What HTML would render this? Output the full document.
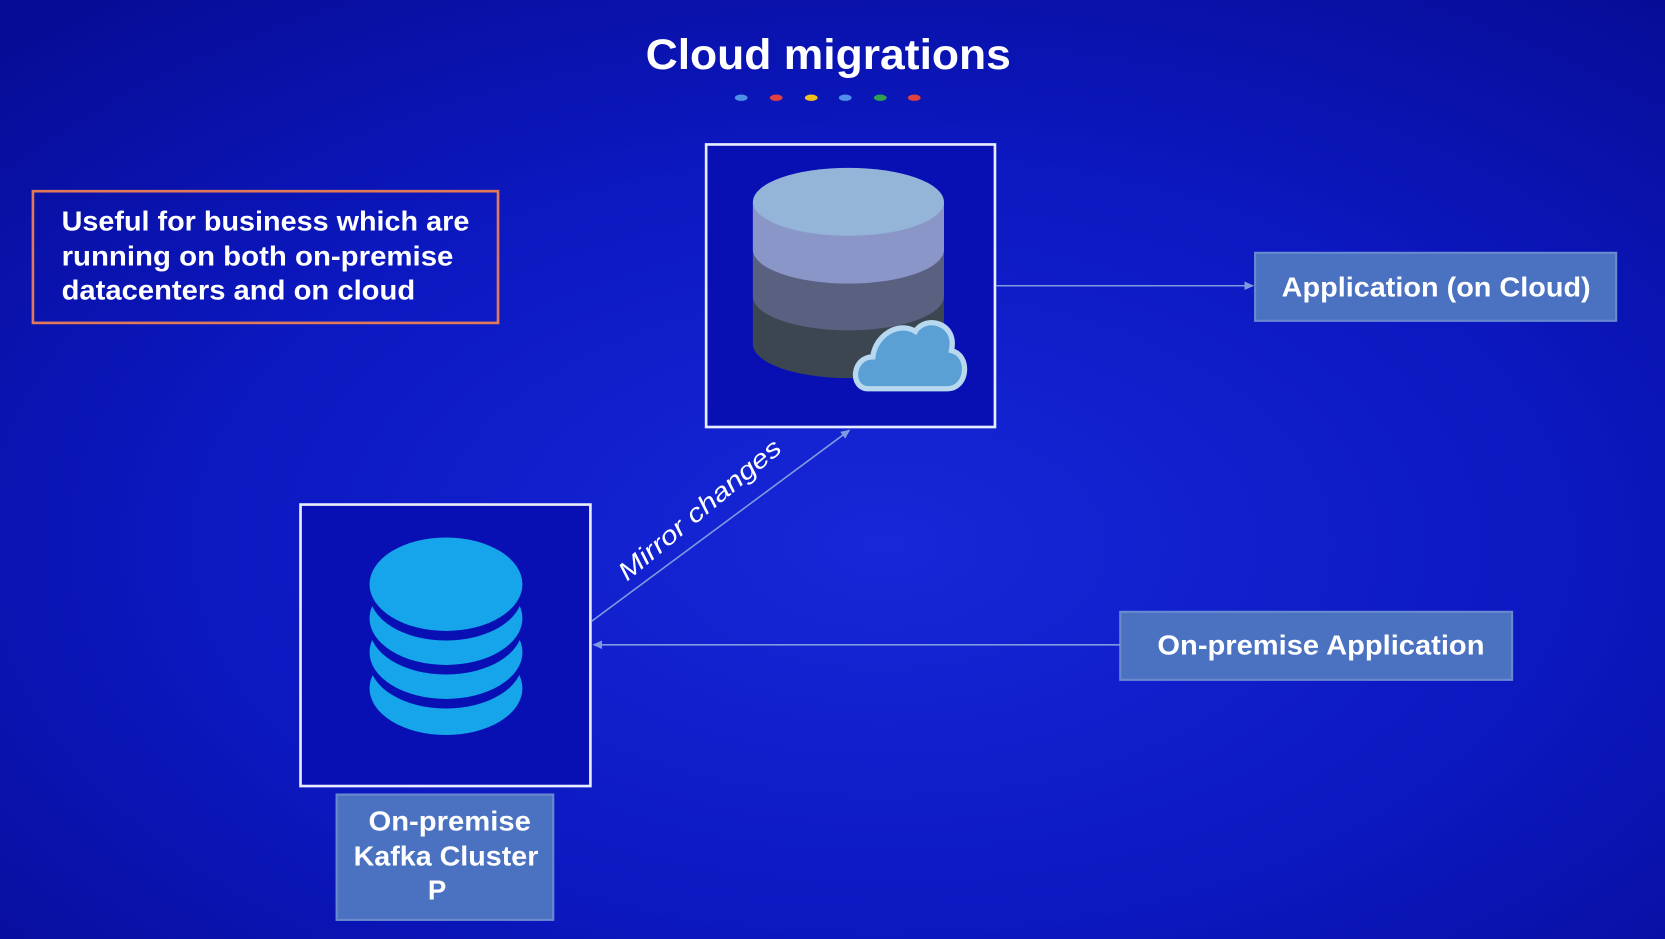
<!DOCTYPE html>
<html><head><meta charset="utf-8"><style>
html,body{margin:0;padding:0;width:1665px;height:939px;overflow:hidden;background:#0a10b0}
svg{display:block}
text{font-family:"Liberation Sans",sans-serif;fill:#fff}
</style></head><body>
<svg width="1665" height="939" viewBox="0 0 1568 884" preserveAspectRatio="none" xmlns="http://www.w3.org/2000/svg">
<defs>
<radialGradient id="bg" cx="0.53" cy="0.58" r="0.75">
<stop offset="0" stop-color="#1628d8"/>
<stop offset="0.55" stop-color="#0c18c0"/>
<stop offset="1" stop-color="#070c96"/>
</radialGradient>
<marker id="ah" markerWidth="10" markerHeight="10" refX="8" refY="5" orient="auto" markerUnits="userSpaceOnUse">
<path d="M0,1 L9,5 L0,9 z" fill="#7f9ae0"/>
</marker>
</defs>
<rect width="1568" height="884" fill="url(#bg)"/>
<text x="608" y="65" font-size="40" font-weight="bold" textLength="344" lengthAdjust="spacingAndGlyphs">Cloud migrations</text>
<g>
<ellipse cx="698" cy="92" rx="6" ry="3" fill="#4f8fe8"/>
<ellipse cx="731" cy="92" rx="6" ry="3" fill="#e04040"/>
<ellipse cx="764" cy="92" rx="6" ry="3" fill="#f0c020"/>
<ellipse cx="796" cy="92" rx="6" ry="3" fill="#4f8fe8"/>
<ellipse cx="829" cy="92" rx="6" ry="3" fill="#30a050"/>
<ellipse cx="861" cy="92" rx="6" ry="3" fill="#e04040"/>
</g>
<rect x="31" y="180" width="438" height="124" fill="none" stroke="#e0785a" stroke-width="2.5"/>
<g font-size="26" font-weight="bold">
<text x="58" y="217" textLength="384" lengthAdjust="spacingAndGlyphs">Useful for business which are</text>
<text x="58" y="250" textLength="369" lengthAdjust="spacingAndGlyphs">running on both on-premise</text>
<text x="58" y="282" textLength="333" lengthAdjust="spacingAndGlyphs">datacenters and on cloud</text>
</g>

<rect x="665" y="136" width="272" height="266" fill="#0810b4" stroke="#e8ecff" stroke-width="2.5"/>
<path d="M709,279 L709,324 A90,32 0 0 0 889,324 L889,279 Z" fill="#3c4650"/>
<path d="M709,235 L709,279 A90,32 0 0 0 889,279 L889,235 Z" fill="#5a6080"/>
<path d="M709,190 L709,235 A90,32 0 0 0 889,235 L889,190 Z" fill="#8a96c8"/>
<ellipse cx="799" cy="190" rx="90" ry="32" fill="#94b4d8"/>
<path d="M818,366 C800,366 802,336 822,336 C824,316 846,302 862,312 C872,296 902,304 896,330 C914,334 912,366 892,366 Z" fill="#5aa0d4" stroke="#b8d8f0" stroke-width="5"/>

<line x1="938" y1="269" x2="1180" y2="269" stroke="#7f9ae0" stroke-width="1.5" marker-end="url(#ah)"/>
<rect x="1182" y="238" width="340" height="64" fill="#4a72c0" stroke="#6a8ad0" stroke-width="2"/>
<text x="1207" y="279" font-size="26" font-weight="bold" textLength="291" lengthAdjust="spacingAndGlyphs">Application (on Cloud)</text>

<rect x="283" y="475" width="273" height="265" fill="#0810b4" stroke="#e8ecff" stroke-width="2.5"/>
<ellipse cx="420" cy="648" rx="72" ry="44" fill="#16a4ea"/>
<ellipse cx="420" cy="623" rx="72" ry="44" fill="#0810b4"/>
<ellipse cx="420" cy="614" rx="72" ry="44" fill="#16a4ea"/>
<ellipse cx="420" cy="591" rx="72" ry="44" fill="#0810b4"/>
<ellipse cx="420" cy="582" rx="72" ry="44" fill="#16a4ea"/>
<ellipse cx="420" cy="559" rx="72" ry="44" fill="#0810b4"/>
<ellipse cx="420" cy="550" rx="72" ry="44" fill="#16a4ea"/>

<rect x="317" y="748" width="204" height="118" fill="#4a72c0" stroke="#6a8ad0" stroke-width="2"/>
<g font-size="26" font-weight="bold">
<text x="347" y="782" textLength="153" lengthAdjust="spacingAndGlyphs">On-premise</text>
<text x="333" y="815" textLength="174" lengthAdjust="spacingAndGlyphs">Kafka Cluster</text>
<text x="403" y="847">P</text>
</g>

<line x1="557" y1="585" x2="800" y2="405" stroke="#7f9ae0" stroke-width="1.5" marker-end="url(#ah)"/>
<text x="664" y="486" text-anchor="middle" font-size="24" font-style="italic" textLength="192" lengthAdjust="spacingAndGlyphs" transform="rotate(-40 664 486)">Mirror changes</text>

<rect x="1055" y="576" width="369" height="64" fill="#4a72c0" stroke="#6a8ad0" stroke-width="2"/>
<text x="1090" y="616" font-size="26" font-weight="bold" textLength="308" lengthAdjust="spacingAndGlyphs">On-premise Application</text>
<line x1="1055" y1="607" x2="559" y2="607" stroke="#7f9ae0" stroke-width="1.5" marker-end="url(#ah)"/>
</svg>
</body></html>
